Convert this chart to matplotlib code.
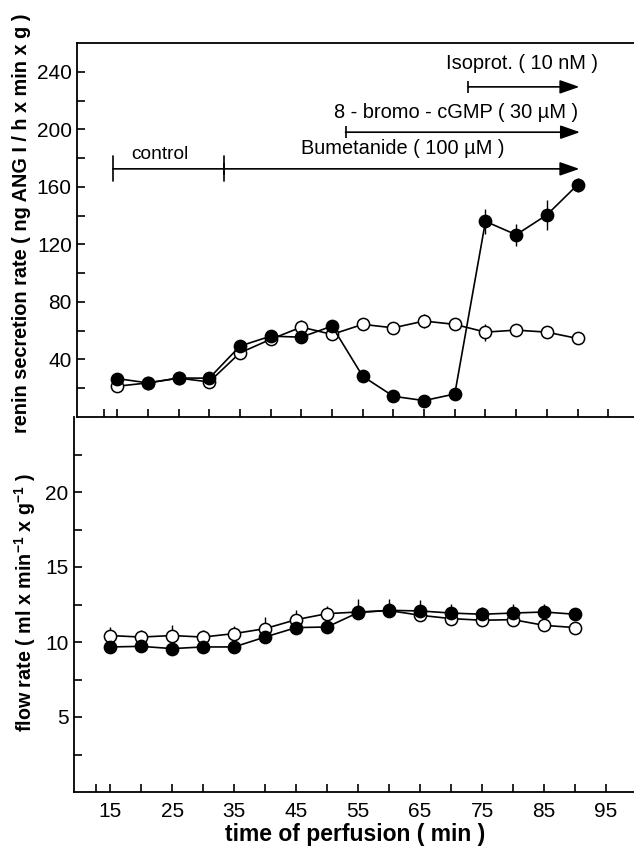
import matplotlib
matplotlib.use("Agg")
import matplotlib.pyplot as plt
import numpy as np

plt.rcParams["font.family"] = ["Liberation Sans", "DejaVu Sans"]
plt.rcParams["mathtext.fontset"] = "custom"
plt.rcParams["mathtext.rm"] = "Liberation Sans:bold"
plt.rcParams["mathtext.bf"] = "Liberation Sans:bold"

# time of perfusion (min)
time_min = [15, 20, 25, 30, 35, 40, 45, 50, 55, 60, 65, 70, 75, 80, 85, 90]

# renin secretion rate
renin_open = [21.4, 23.7, 27.0, 24.4, 44.6, 54.0, 62.5, 57.4, 64.4, 62.0, 66.7, 64.4, 59.0, 60.4, 59.0, 54.6]
renin_open_err = [2, 2, 2, 2, 3, 3, 4.7, 3, 3, 3, 4.6, 3, 6, 4, 4, 2]
renin_filled = [26.7, 23.7, 27.1, 27.0, 49.3, 56.2, 55.5, 63.2, 28.3, 14.4, 11.4, 16.0, 136.0, 126.7, 140.5, 161.4]
renin_filled_err = [3, 2, 2, 2, 3, 3, 3, 3, 2, 2, 2, 2, 8.7, 7.6, 10.5, 5]

# flow rate
flow_open = [10.43, 10.33, 10.43, 10.33, 10.56, 10.89, 11.49, 11.89, 12.0, 12.1, 11.78, 11.56, 11.45, 11.49, 11.11, 10.96]
flow_open_err = [0.6, 0.5, 0.7, 0.5, 0.5, 0.78, 0.62, 0.5, 0.5, 0.5, 0.4, 0.4, 0.4, 0.4, 0.4, 0.4]
flow_filled = [9.67, 9.71, 9.56, 9.67, 9.67, 10.33, 10.96, 11.0, 11.96, 12.11, 12.07, 11.93, 11.85, 11.93, 12.0, 11.85]
flow_filled_err = [0.4, 0.4, 0.4, 0.4, 0.4, 0.4, 0.4, 0.4, 0.9, 0.78, 0.7, 0.62, 0.5, 0.58, 0.55, 0.4]

# treatment periods: (label, start, end, text x, text y, line y)
periods = [
    ("Isoprot. ( 10 nM )", 72.2, 90.3, 81.0, 245.8, 229.5),
    ("8 - bromo - cGMP ( 30 µM )", 52.2, 90.4, 70.2, 212.0, 198.0),
    ("Bumetanide ( 100 µM )", 32.4, 90.3, 61.5, 186.5, 172.5),
]
control_span = (14.3, 32.4)

W, H = 634, 850
fig = plt.figure(figsize=(W / 100, H / 100), dpi=100)


def px_axes(left, top, right, bottom):
    return fig.add_axes([left / W, 1 - bottom / H, (right - left) / W, (bottom - top) / H])


ax1 = px_axes(76.7, 43, 634, 417)
ax2 = px_axes(73.5, 417, 634, 792)

mk = dict(marker="o", markersize=8.8, markeredgecolor="black", markeredgewidth=1.1,
          color="black", linewidth=1.2, capsize=0, elinewidth=1.0, ecolor="black")

t = np.array(time_min)

# top panel
ax1.errorbar(t, renin_open, yerr=renin_open_err, markerfacecolor="white", zorder=3, **mk)
ax1.errorbar(t, renin_filled, yerr=renin_filled_err, markerfacecolor="black", zorder=4, **mk)
ax1.set_xlim(8.4, 99.2)
ax1.set_ylim(0, 260)
ax1.set_yticks(np.arange(40, 241, 40))
ax1.set_yticks(np.arange(20, 221, 40), minor=True)
ax1.set_xticks([12.8] + list(range(15, 96, 5)))
ax1.set_xticklabels([])
ax1.spines["right"].set_visible(False)

# annotations
ax1.annotate("", xy=(control_span[1], 172.5), xytext=(control_span[0], 172.5),
             arrowprops=dict(arrowstyle="|-|,widthA=0.9,widthB=0.9", color="black",
                             lw=1.2, shrinkA=0, shrinkB=0, mutation_scale=10))
ax1.text(22.0, 182.5, "control", ha="center", va="center", fontsize=13.8)
for label, x0, x1, tx, ty, ly in periods:
    ax1.annotate("", xy=(x1, ly), xytext=(x0, ly),
                 arrowprops=dict(arrowstyle="-|>,head_length=1.2,head_width=0.42", color="black",
                                 lw=1.2, shrinkA=0, shrinkB=0, mutation_scale=10))
    ax1.plot([x0], [ly], marker="|", markersize=9, markeredgewidth=1.2, color="black")
    ax1.text(tx, ty, label, ha="center", va="center", fontsize=14.4)

# bottom panel
ax2.errorbar(t, flow_open, yerr=[np.zeros(len(t)), flow_open_err], markerfacecolor="white", zorder=3, **mk)
ax2.errorbar(t, flow_filled, yerr=[np.zeros(len(t)), flow_filled_err], markerfacecolor="black", zorder=4, **mk)
ax2.set_xlim(9.1, 99.5)
ax2.set_ylim(0, 25)
ax2.set_yticks([5, 10, 15, 20])
ax2.set_yticks(np.arange(2.5, 23, 5), minor=True)
ax2.set_xticks(range(15, 96, 10))
ax2.set_xticks([12.8] + list(range(20, 91, 10)), minor=True)
ax2.spines["right"].set_visible(False)
ax2.spines["top"].set_visible(False)

for ax in (ax1, ax2):
    for s in ax.spines.values():
        s.set_linewidth(1.3)
    ax.tick_params(which="both", direction="in", length=5.5, width=1.2, labelsize=15,
                   top=False, right=False)
    ax.tick_params(axis="x", pad=7)
    ax.set_facecolor("none")

fig.text(22 / W, 1 - 223 / H, "renin secretion rate ( ng ANG I / h x min x g )",
         rotation=90, ha="center", va="center", fontsize=14.3, fontweight="bold")
fig.text(25 / W, 1 - 603 / H, r"flow rate ( ml x min$^{\mathbf{-1}}$ x g$^{\mathbf{-1}}$ )",
         rotation=90, ha="center", va="center", fontsize=14.2, fontweight="bold")
fig.text(355 / W, 1 - 834 / H, "time of perfusion ( min )",
         ha="center", va="center", fontsize=16.5, fontweight="bold")

fig.savefig("out.png", dpi=100)
